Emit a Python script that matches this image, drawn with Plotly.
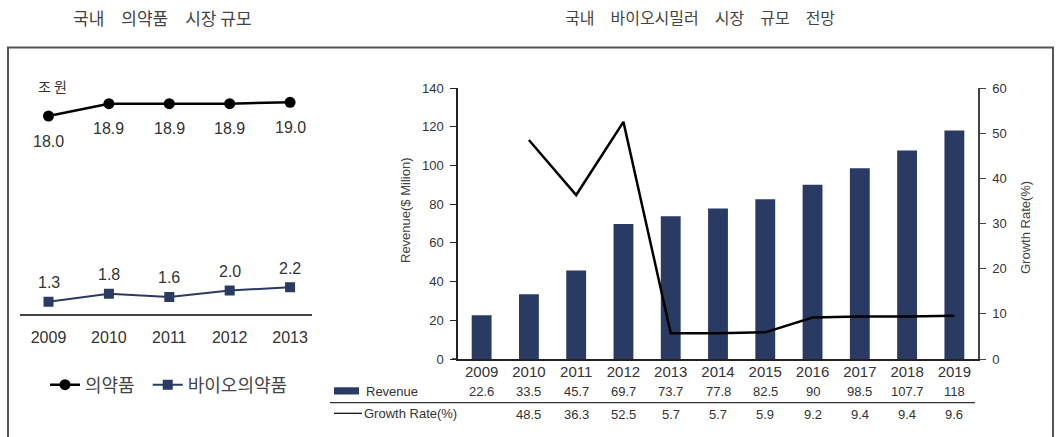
import plotly.graph_objects as go

W, H = 1063, 437


def px(x):
    return x / W


def py(y):
    return 1 - y / H


# ---------------- data ----------------
years_left = ["2009", "2010", "2011", "2012", "2013"]
pharma = [18.0, 18.9, 18.9, 18.9, 19.0]          # 의약품 (조 원)
bio_pharma = [1.3, 1.8, 1.6, 2.0, 2.2]            # 바이오의약품 (조 원)

years_right = ["2009", "2010", "2011", "2012", "2013", "2014",
               "2015", "2016", "2017", "2018", "2019"]
revenue = [22.6, 33.5, 45.7, 69.7, 73.7, 77.8, 82.5, 90, 98.5, 107.7, 118]
growth = [None, 48.5, 36.3, 52.5, 5.7, 5.7, 5.9, 9.2, 9.4, 9.4, 9.6]

NAVY = "#293a63"
TXT = "#333333"
KTXT = "#444444"
LAT = "Liberation Sans, Arial, sans-serif"
KR = "Noto Sans CJK KR, sans-serif"

fig = go.Figure()

# ---------------- left chart ----------------
fig.add_trace(go.Scatter(
    x=years_left, y=pharma, xaxis="x", yaxis="y2", name="의약품\u00a0\u00a0",
    mode="lines+markers", line=dict(color="#000000", width=2.5),
    marker=dict(symbol="circle", size=11, color="#000000"),
))
fig.add_trace(go.Scatter(
    x=years_left, y=bio_pharma, xaxis="x", yaxis="y", name="바이오의약품",
    mode="lines+markers", line=dict(color=NAVY, width=2),
    marker=dict(symbol="square", size=10, color=NAVY),
))


def ann(**kw):
    d = dict(showarrow=False, xanchor="center", yanchor="middle")
    d.update(kw)
    return d


annotations = []
for i, yv in enumerate(pharma):
    annotations.append(ann(x=i, y=yv, xref="x", yref="y2", text=f"{yv:.1f}",
                           yshift=-25,
                           font=dict(family=LAT, size=16, color=TXT)))
for i, yv in enumerate(bio_pharma):
    annotations.append(ann(x=i, y=yv, xref="x", yref="y", text=f"{yv:.1f}",
                           yshift=19,
                           font=dict(family=LAT, size=16, color=TXT)))
annotations.append(ann(x=px(52), y=py(86), xref="paper", yref="paper",
                       text="조 원", font=dict(family=KR, size=14, color=TXT)))

# ---------------- right chart ----------------
fig.add_trace(go.Bar(
    x=years_right, y=revenue, xaxis="x2", yaxis="y3", name="Revenue",
    marker=dict(color=NAVY, line=dict(width=0)), showlegend=False,
))
fig.add_trace(go.Scatter(
    x=years_right, y=growth, xaxis="x2", yaxis="y4", name="Growth Rate(%)",
    mode="lines", line=dict(color="#000000", width=2.5), showlegend=False,
    connectgaps=False,
))

# table rows
for i, v in enumerate(revenue):
    annotations.append(ann(x=i, y=py(391.7), xref="x2", yref="paper",
                           text=f"{v:g}",
                           font=dict(family=LAT, size=13, color=TXT)))
for i, v in enumerate(growth):
    if v is None:
        continue
    annotations.append(ann(x=i, y=py(414.3), xref="x2", yref="paper",
                           text=f"{v:.1f}",
                           font=dict(family=LAT, size=13, color=TXT)))
annotations.append(ann(x=px(364), y=py(391.7), xref="paper", yref="paper",
                       text="Revenue", xanchor="left",
                       font=dict(family=LAT, size=13, color=TXT)))
annotations.append(ann(x=px(362), y=py(413.3), xref="paper", yref="paper",
                       text="Growth Rate(%)", xanchor="left",
                       font=dict(family=LAT, size=13, color=TXT)))

# axis titles
annotations.append(ann(x=px(405), y=py(210), xref="paper", yref="paper",
                       text="Revenue($ Milion)", textangle=-90,
                       font=dict(family=LAT, size=13, color="#444444")))
annotations.append(ann(x=px(1025), y=py(228), xref="paper", yref="paper",
                       text="Growth Rate(%)", textangle=-90,
                       font=dict(family=LAT, size=13, color="#444444")))

# titles
annotations.append(ann(x=px(162.5), y=py(17.5), xref="paper", yref="paper",
                       text="국내\u3000의약품\u3000시장 규모",
                       font=dict(family=KR, size=17, color=KTXT)))
annotations.append(ann(x=px(700), y=py(17), xref="paper", yref="paper",
                       text="국내\u3000바이오시밀러\u3000시장\u3000규모\u3000전망",
                       font=dict(family=KR, size=16, color=KTXT)))

shapes = [
    # outer frame
    dict(type="rect", xref="paper", yref="paper", x0=px(8), x1=px(1053),
         y0=py(447), y1=py(47.5), line=dict(color="#555555", width=2)),
    # table separator
    dict(type="line", xref="paper", yref="paper", x0=px(330), x1=px(975),
         y0=py(402.7), y1=py(402.7), line=dict(color="#333333", width=1.2)),
    # legend swatches in table
    dict(type="rect", xref="paper", yref="paper", x0=px(334), x1=px(359),
         y0=py(394.5), y1=py(387.3), line=dict(width=0), fillcolor=NAVY),
    dict(type="line", xref="paper", yref="paper", x0=px(334), x1=px(362),
         y0=py(413.3), y1=py(413.3), line=dict(color="#000000", width=1.2)),
    # baseline extension left of the value axis
    dict(type="line", xref="paper", yref="paper", x0=px(452), x1=px(458),
         y0=py(359), y1=py(359), line=dict(color="#222222", width=1.5)),
]

fig.update_layout(
    width=W, height=H,
    margin=dict(l=0, r=0, t=0, b=0, autoexpand=False),
    paper_bgcolor="white", plot_bgcolor="rgba(0,0,0,0)",
    bargap=0.58,
    showlegend=True,
    legend=dict(orientation="h", x=px(45), y=py(385), xanchor="left",
                yanchor="middle", font=dict(family=KR, size=18, color=KTXT),
                bgcolor="rgba(0,0,0,0)", itemwidth=30),
    xaxis=dict(domain=[px(20), px(312)], type="category",
               range=[-0.472, 4.363], showgrid=False, zeroline=False,
               showline=True, linecolor="#444444", linewidth=1.5,
               ticks="", ticklabelstandoff=8, automargin=False,
               tickfont=dict(family=LAT, size=16, color=TXT), anchor="y"),
    yaxis=dict(domain=[py(314.3), py(250)], range=[0.5125, 4.531],
               visible=False, anchor="x"),
    yaxis2=dict(domain=[py(140), py(90)], range=[16.248, 19.898],
                visible=False, anchor="x"),
    xaxis2=dict(domain=[px(458), px(978)], type="category",
                range=[-0.5, 10.5], showgrid=False, zeroline=False,
                showline=True, linecolor="#222222", linewidth=1.5,
                ticks="", ticklabelstandoff=-2, automargin=False,
                tickfont=dict(family=LAT, size=15, color=TXT), anchor="y3"),
    yaxis3=dict(domain=[py(359), py(88)], range=[0, 140], dtick=20,
                showgrid=False, zeroline=False, showline=True,
                linecolor="#222222", linewidth=1.5, ticks="outside",
                ticklen=6, tickcolor="#222222", ticklabelstandoff=4,
                automargin=False,
                tickfont=dict(family=LAT, size=13, color=TXT), anchor="x2"),
    yaxis4=dict(domain=[py(359), py(88)], range=[0, 60], dtick=10,
                overlaying="y3", side="right", anchor="x2",
                showgrid=False, zeroline=False, showline=True,
                linecolor="#444444", linewidth=1.5, ticks="outside",
                ticklen=6, tickcolor="#444444", ticklabelstandoff=4,
                automargin=False,
                tickfont=dict(family=LAT, size=13, color=TXT)),
    annotations=annotations,
    shapes=shapes,
)

fig.write_html("out.html")
